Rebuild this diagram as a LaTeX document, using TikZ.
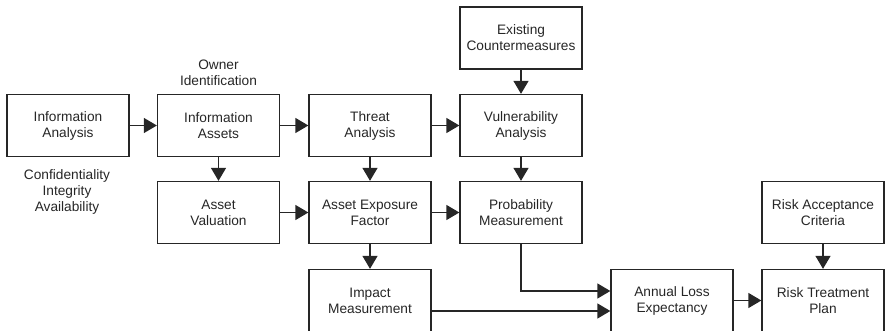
\documentclass[tikz,border=0pt]{standalone}
\usepackage{fontspec}
\setmainfont{Liberation Sans}
\usetikzlibrary{arrows.meta}
\begin{document}
\begin{tikzpicture}[x=1pt,y=-1pt,
  box/.style={draw=black!85, line width=1.3pt, minimum width=122pt, minimum height=62pt, inner sep=0pt, align=center, font=\fontsize{13.7}{16}\selectfont, text=black!85},
  lbl/.style={align=center, font=\fontsize{13.7}{16}\selectfont, text=black!85, inner sep=0pt},
  arr/.style={draw=black!85, line width=1.3pt, -{Triangle[length=13pt,width=15pt]}}]
\clip (0,0) rectangle (885,331);
\node[box] (IA) at (68,125.5) {Information\\Analysis};
\node[box] (IAs) at (218.5,125.5) {Information\\Assets};
\node[box] (TA) at (370,125.5) {Threat\\Analysis};
\node[box] (VA) at (521,125.5) {Vulnerability\\Analysis};
\node[box] (EC) at (521,38) {Existing\\Countermeasures};
\node[box] (AV) at (218.5,212.5) {Asset\\Valuation};
\node[box] (AEF) at (370,212.5) {Asset Exposure\\Factor};
\node[box] (PM) at (521,212.5) {Probability\\Measurement};
\node[box] (RAC) at (823,212.5) {Risk Acceptance\\Criteria};
\node[box] (IM) at (370,300.5) {Impact\\Measurement};
\node[box] (ALE) at (672,300.5) {Annual Loss\\Expectancy};
\node[box] (RTP) at (823,300.5) {Risk Treatment\\Plan};
\node[lbl] (own) at (218.5,73) {Owner\\Identification};
\node[lbl] (cia) at (67,192) {Confidentiality\\Integrity\\Availability};
\draw[arr] (IA) -- (IAs);
\draw[arr] (IAs) -- (TA);
\draw[arr] (TA) -- (VA);
\draw[arr] (EC) -- (VA);
\draw[arr] (IAs) -- (AV);
\draw[arr] (TA) -- (AEF);
\draw[arr] (VA) -- (PM);
\draw[arr] (AV) -- (AEF);
\draw[arr] (AEF) -- (PM);
\draw[arr] (AEF) -- (IM);
\draw[arr] (RAC) -- (RTP);
\draw[arr] (ALE) -- (RTP);
\coordinate (in1) at ([yshift=9.5pt]ALE.west);
\coordinate (in2) at ([yshift=-10.5pt]ALE.west);
\draw[arr] (PM.south) |- (in1);
\draw[arr] (IM.east |- in2) -- (in2);
\end{tikzpicture}
\end{document}
